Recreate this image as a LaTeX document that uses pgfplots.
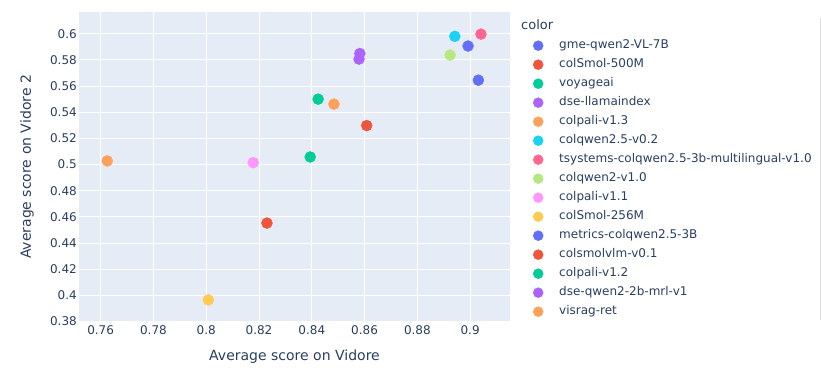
\documentclass[border=0pt]{standalone}
\usepackage{fontspec}
\setmainfont{DejaVu Sans}
\usepackage{pgfplots}
\pgfplotsset{compat=1.18}
\definecolor{plotbg}{HTML}{E5ECF6}
\definecolor{txt}{HTML}{2A3F5F}
\definecolor{cblue}{HTML}{636EFA}
\definecolor{cred}{HTML}{EF553B}
\definecolor{cgreen}{HTML}{00CC96}
\definecolor{cpurple}{HTML}{AB63FA}
\definecolor{corange}{HTML}{FFA15A}
\definecolor{ccyan}{HTML}{19D3F3}
\definecolor{cpink}{HTML}{FF6692}
\definecolor{clgreen}{HTML}{B6E880}
\definecolor{cmagenta}{HTML}{FF97FF}
\definecolor{cyellow}{HTML}{FECB52}
\begin{document}
\begin{tikzpicture}
\path[use as bounding box] (0,0) rectangle (821pt,377pt);
\begin{axis}[
  at={(79pt,55pt)}, anchor=south west,
  width=431pt, height=310pt, scale only axis,
  xmin=0.7518, xmax=0.9151, ymin=0.3797, ymax=0.6166,
  axis background/.style={fill=plotbg},
  axis line style={draw=none},
  major tick length=0pt,
  grid=major, grid style={white, line width=1pt},
  xtick={0.76,0.78,0.8,0.82,0.84,0.86,0.88,0.9},
  ytick={0.38,0.4,0.42,0.44,0.46,0.48,0.5,0.52,0.54,0.56,0.58,0.6},
  /pgf/number format/assume math mode=true,
  tick label style={font=\fontsize{12}{14}\selectfont, text=txt},
  xticklabel style={inner sep=0pt, yshift=-3.5pt},
  yticklabel style={inner sep=0pt, xshift=-2pt},
  xlabel={Average score on Vidore},
  ylabel={Average score on Vidore 2},
  label style={font=\fontsize{14}{16}\selectfont, text=txt},
  xlabel style={at={(axis description cs:0.5,-0.1129)}, anchor=center},
  ylabel style={at={(axis description cs:-0.1206,0.5)}, anchor=center},
  legend cell align=left,
  legend image code/.code={\draw[#1, mark size=5pt] plot coordinates {(0pt,0pt)};
    \path[draw=none, fill=none] (-5pt,-5pt) rectangle (21pt,5pt);},
  legend style={at={(axis description cs:1.0534,0.9113)}, anchor=north west,
    draw=none, fill=none, inner sep=0pt, row sep=7pt,
    font=\fontsize{12}{14}\selectfont, text=txt,
    nodes={inner sep=0pt, text height=9pt, text depth=3pt}},
  every axis plot/.append style={only marks, mark=*, mark size=5.5pt, mark options={draw=none}},
]
\addplot[color=cblue] coordinates {(0.8992,0.5906)};
\addlegendentry{gme-qwen2-VL-7B}
\addplot[color=cred] coordinates {(0.8608,0.5298)};
\addlegendentry{colSmol-500M}
\addplot[color=cgreen] coordinates {(0.8424,0.5500)};
\addlegendentry{voyageai}
\addplot[color=cpurple] coordinates {(0.8579,0.5806)};
\addlegendentry{dse-llamaindex}
\addplot[color=corange] coordinates {(0.8484,0.5462)};
\addlegendentry{colpali-v1.3}
\addplot[color=ccyan] coordinates {(0.8942,0.5980)};
\addlegendentry{colqwen2.5-v0.2}
\addplot[color=cpink] coordinates {(0.9041,0.5997)};
\addlegendentry{tsystems-colqwen2.5-3b-multilingual-v1.0}
\addplot[color=clgreen] coordinates {(0.8924,0.5837)};
\addlegendentry{colqwen2-v1.0}
\addplot[color=cmagenta] coordinates {(0.8178,0.5015)};
\addlegendentry{colpali-v1.1}
\addplot[color=cyellow] coordinates {(0.8008,0.3966)};
\addlegendentry{colSmol-256M}
\addplot[color=cblue] coordinates {(0.9031,0.5645)};
\addlegendentry{metrics-colqwen2.5-3B}
\addplot[color=cred] coordinates {(0.8230,0.4553)};
\addlegendentry{colsmolvlm-v0.1}
\addplot[color=cgreen] coordinates {(0.8394,0.5058)};
\addlegendentry{colpali-v1.2}
\addplot[color=cpurple] coordinates {(0.8582,0.5849)};
\addlegendentry{dse-qwen2-2b-mrl-v1}
\addplot[color=corange] coordinates {(0.7625,0.5028)};
\addlegendentry{visrag-ret}
\end{axis}
\node[anchor=west, inner sep=0pt, text=txt, font=\fontsize{13}{15}\selectfont] at (521pt,352pt) {color};
\draw[color=gray!25, line width=0.8pt] (820.5pt,57pt) -- (820.5pt,359pt);
\end{tikzpicture}
\end{document}
